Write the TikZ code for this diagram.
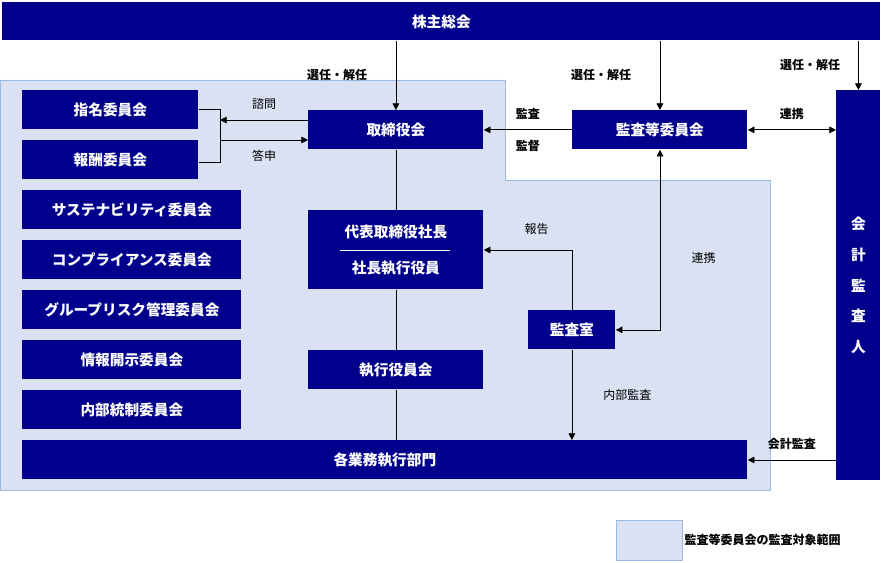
\documentclass[tikz,border=0pt]{standalone}
\usepackage{fontspec}
\setmainfont{Noto Sans CJK JP}
\usetikzlibrary{arrows.meta,positioning}
\definecolor{box_navy}{RGB}{0,0,140}
\definecolor{area_fill}{RGB}{218,225,243}
\definecolor{area_edge}{RGB}{155,185,225}

\begin{document}
\begin{tikzpicture}[x=0.75pt,y=-0.75pt,>={Triangle[length=5pt,width=5pt]},semithick]
    \tikzstyle{org}=[fill=box_navy, text=white, font=\bfseries\fontsize{11}{13}\selectfont, inner sep=0pt, anchor=north west]
    \tikzstyle{lbl}=[font=\fontsize{9}{11}\selectfont, text=black]
    \tikzstyle{blbl}=[font=\bfseries\fontsize{9}{11}\selectfont, text=black]

    \useasboundingbox (0,0) rectangle (882,563);
    % audit scope area
    \draw[fill=area_fill, draw=area_edge] (0,80) -- (505,80) -- (505,180) -- (770,180) -- (770,490) -- (0,490) -- cycle;

    \node[org, minimum width=878*0.75pt, minimum height=38*0.75pt] (gm) at (2,2) {株主総会};
    \node[org, minimum width=176*0.75pt, minimum height=39*0.75pt] (nom) at (22,90) {指名委員会};
    \node[org, minimum width=176*0.75pt, minimum height=39*0.75pt] (rem) at (22,140) {報酬委員会};
    \node[org, minimum width=219*0.75pt, minimum height=39*0.75pt] (sus) at (22,190) {サステナビリティ委員会};
    \node[org, minimum width=219*0.75pt, minimum height=39*0.75pt] (cmp) at (22,240) {コンプライアンス委員会};
    \node[org, minimum width=219*0.75pt, minimum height=39*0.75pt] (grp) at (22,290) {グループリスク管理委員会};
    \node[org, minimum width=219*0.75pt, minimum height=39*0.75pt] (dis) at (22,340) {情報開示委員会};
    \node[org, minimum width=219*0.75pt, minimum height=39*0.75pt] (ic) at (22,390) {内部統制委員会};
    \node[org, minimum width=175*0.75pt, minimum height=39*0.75pt] (bod) at (308,110) {取締役会};
    \node[org, minimum width=175*0.75pt, minimum height=79*0.75pt, align=center] (ceo) at (308,210) {代表取締役社長\\[14pt]社長執行役員};
    \node[org, minimum width=175*0.75pt, minimum height=39*0.75pt] (exc) at (308,350) {執行役員会};
    \node[org, minimum width=725*0.75pt, minimum height=39*0.75pt] (dep) at (22,440) {各業務執行部門};
    \node[org, minimum width=175*0.75pt, minimum height=39*0.75pt] (acm) at (572,110) {監査等委員会};
    \node[org, minimum width=87*0.75pt, minimum height=39*0.75pt] (iad) at (528,310) {監査室};
    \node[org, minimum width=44*0.75pt, minimum height=390*0.75pt, align=center] (aud) at (836,90) {会\\[10pt]計\\[10pt]監\\[10pt]査\\[10pt]人};
    \draw[white, thin] (340,250) -- (450,250);

    % legend
    \node[fill=area_fill, draw=area_edge, minimum width=66*0.75pt, minimum height=40*0.75pt, inner sep=0pt, anchor=north west] (key) at (616,520) {};
    \node[blbl, anchor=west, inner sep=1pt] (keytxt) at (key.east) {監査等委員会の監査対象範囲};

    % election
    \draw[->] (gm.south -| bod.north) -- (bod.north) node[blbl, midway, left=18pt] {選任・解任};
    \draw[->] (gm.south -| acm.north) -- (acm.north) node[blbl, midway, left=18pt] {選任・解任};
    \draw[->] (gm.south -| aud.north) -- (aud.north) node[blbl, midway, left=10pt] {選任・解任};

    % committees bracket
    \coordinate (brk) at (220,110);
    \draw (nom.east |- 0,109) -- (220,109) -- (220,162) -- (rem.east |- 0,162);
    \draw[->] (bod.west |- 0,120) -- (220,120) node[lbl, midway, above=4pt] {諮問};
    \draw[->] (220,140) -- (bod.west |- 0,140) node[lbl, midway, below=4pt] {答申};

    % executive chain
    \draw (bod.south) -- (ceo.north);
    \draw (ceo.south) -- (exc.north);
    \draw (exc.south) -- (dep.north -| exc.south);

    % audit relations
    \draw[->] (acm.west) -- (bod.east) node[blbl, midway, above=4pt] {監査} node[blbl, midway, below=4pt] {監督};
    \draw[<->] (acm.east) -- (aud.west |- acm.east) node[blbl, midway, above=4pt] {連携};
    \draw[->] (iad.north) |- (ceo.east |- 0,250) node[lbl, pos=0.7, above=8pt] {報告};
    \draw[<->] (acm.south -| 660,0) |- (iad.east) node[lbl, pos=0.3, right=20pt] {連携};
    \draw[->] (iad.south) -- (dep.north -| iad.south) node[lbl, midway, right=20pt] {内部監査};
    \draw[->] (aud.west |- 0,460) -- (dep.east |- 0,460) node[blbl, midway, above=4pt] {会計監査};
\end{tikzpicture}
\end{document}
